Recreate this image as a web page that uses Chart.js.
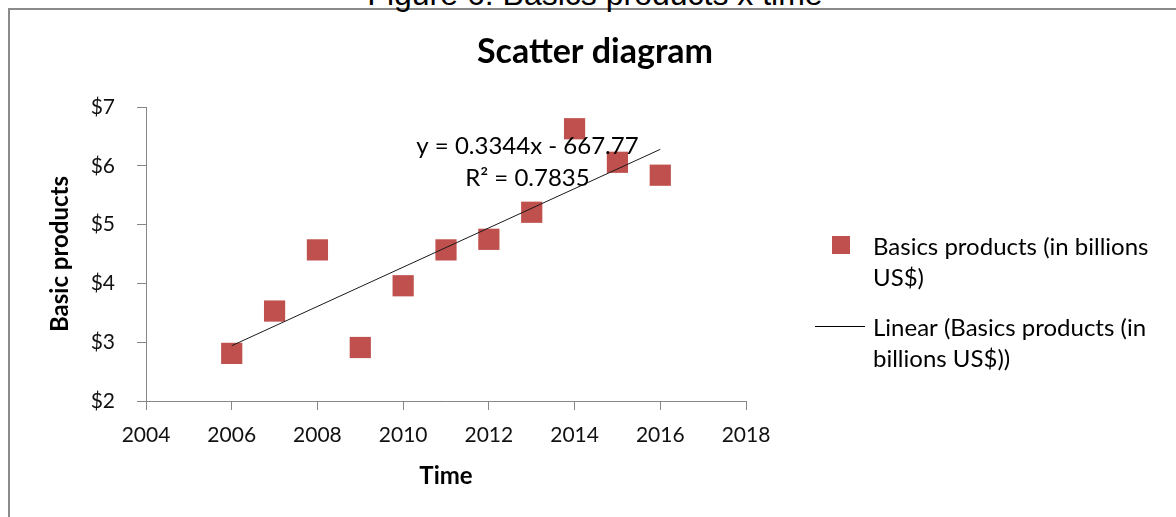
<!DOCTYPE html>
<html>
<head>
<meta charset="utf-8">
<script src="https://cdn.jsdelivr.net/npm/chart.js@4.4.0/dist/chart.umd.min.js"></script>
<style>
  html, body { margin: 0; padding: 0; background: #fff; overflow: hidden; }
  #wrap { position: relative; width: 1176px; height: 517px; overflow: hidden; }
  #frame { position: absolute; left: 8px; top: 8px; width: 1300px; height: 700px; border: 2px solid #8a8a8a; }
  #caption { position: absolute; left: 0; width: 1190px; top: -24px; line-height: 36px; text-align: center;
             font-size: 32px; font-family: "Liberation Sans", Arial, sans-serif; color: #000; white-space: nowrap; }
  #box { position: absolute; left: 0; top: 0; width: 1176px; height: 517px; }
</style>
</head>
<body>
<div id="wrap">
  <div id="frame"></div>
  <div id="caption">Figure 6: Basics products x time</div>
  <div id="box"><canvas id="scatterGraph"></canvas></div>
</div>
<script>
// values
var years = [2006, 2007, 2008, 2009, 2010, 2011, 2012, 2013, 2014, 2015, 2016];
var basicsProducts = [2.81, 3.53, 4.57, 2.91, 3.96, 4.57, 4.75, 5.21, 6.63, 6.06, 5.84];
var trendYears = [2006, 2016];
var trendValues = [2.94, 6.28];
var xRange = [2004, 2018];
var yRange = [2, 7];

var chartTitle = 'Scatter diagram';
var equationLines = ['y = 0.3344x - 667.77', 'R\u00b2 = 0.7835'];
var seriesLabel = ['Basics products (in billions', 'US$)'];
var trendLabel = ['Linear (Basics products (in', 'billions US$))'];

var red = '#c0504d';
var axisGray = '#868686';
var textFont = 'Lato, "Open Sans", sans-serif';

// title, trend equation and the two-line legend, drawn on the canvas
var extrasPlugin = {
    id: 'extras',
    afterDraw: function (chart) {
        var ctx = chart.ctx;
        var xs = chart.scales.x, ys = chart.scales.y;
        ctx.save();
        ctx.fillStyle = '#000';
        ctx.textBaseline = 'alphabetic';

        ctx.textAlign = 'center';
        ctx.font = 'bold 34px ' + textFont;
        ctx.fillText(chartTitle, 595, 63);

        ctx.font = '24px ' + textFont;
        var ex = xs.getPixelForValue(2012.9);
        ctx.fillText(equationLines[0], ex, ys.getPixelForValue(6.2));
        ctx.fillText(equationLines[1], ex, ys.getPixelForValue(5.66));

        // legend
        ctx.textAlign = 'left';
        ctx.fillStyle = red;
        ctx.fillRect(832, 236, 18, 18);
        ctx.strokeStyle = '#000';
        ctx.lineWidth = 1;
        ctx.beginPath();
        ctx.moveTo(815, 326.5);
        ctx.lineTo(865, 326.5);
        ctx.stroke();
        ctx.fillStyle = '#000';
        ctx.fillText(seriesLabel[0], 873, 255);
        ctx.fillText(seriesLabel[1], 873, 286);
        ctx.fillText(trendLabel[0], 873, 336);
        ctx.fillText(trendLabel[1], 873, 367);
        ctx.restore();
    }
};

document.addEventListener('DOMContentLoaded', function () {
    var ctx = document.getElementById('scatterGraph').getContext('2d');
    var scatterChart = new Chart(ctx, {
        type: 'scatter',
        data: {
            datasets: [{
                label: seriesLabel.join(' '),
                data: years.map(function (y, i) { return { x: y, y: basicsProducts[i] }; }),
                pointStyle: 'rect',
                pointRadius: 15,
                pointHoverRadius: 15,
                backgroundColor: red,
                borderColor: red,
                borderWidth: 0,
                order: 2
            }, {
                label: trendLabel.join(' '),
                type: 'line',
                data: trendYears.map(function (y, i) { return { x: y, y: trendValues[i] }; }),
                borderColor: '#1a1a1a',
                borderWidth: 1,
                pointRadius: 0,
                fill: false,
                order: 1
            }]
        },
        options: {
            responsive: true,
            maintainAspectRatio: false,
            animation: false,
            layout: { padding: { left: 0, right: 430, top: 107, bottom: 0 } },
            plugins: {
                legend: { display: false },
                title: { display: false },
                tooltip: { enabled: false }
            },
            scales: {
                x: {
                    type: 'linear',
                    min: xRange[0],
                    max: xRange[1],
                    ticks: {
                        stepSize: 2,
                        padding: 13,
                        color: '#111',
                        font: { family: textFont, size: 21 },
                        callback: function (v) { return String(v); }
                    },
                    grid: { display: true, drawOnChartArea: false, drawTicks: true, tickLength: 9, color: axisGray },
                    border: { display: true, color: axisGray, width: 1 },
                    title: {
                        display: true,
                        text: 'Time',
                        color: '#000',
                        font: { family: textFont, size: 24, weight: 'bold' },
                        padding: { top: 0, bottom: 26 }
                    },
                    afterFit: function (s) { s.height = 116; }
                },
                y: {
                    min: yRange[0],
                    max: yRange[1],
                    ticks: {
                        stepSize: 1,
                        padding: 22,
                        color: '#111',
                        font: { family: textFont, size: 21 },
                        callback: function (v) { return '$' + v; }
                    },
                    grid: { display: true, drawOnChartArea: false, drawTicks: true, tickLength: 9, color: axisGray },
                    border: { display: true, color: axisGray, width: 1 },
                    title: {
                        display: true,
                        text: 'Basic products',
                        color: '#000',
                        font: { family: textFont, size: 24, weight: 'bold' },
                        padding: { top: 46, bottom: 0 }
                    },
                    afterFit: function (s) { s.width = 146; }
                }
            }
        },
        plugins: [extrasPlugin]
    });
});
</script>
</body>
</html>
